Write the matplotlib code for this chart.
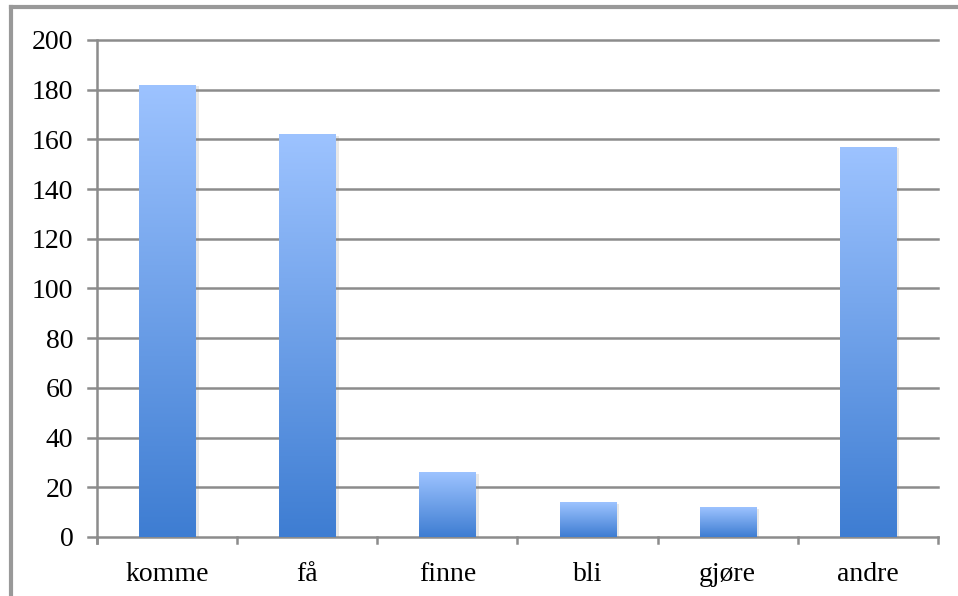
import numpy as np
import matplotlib
matplotlib.use("Agg")
import matplotlib.pyplot as plt
from matplotlib.colors import LinearSegmentedColormap
from matplotlib import patheffects as pe
from matplotlib.lines import Line2D

categories = ["komme", "få", "finne", "bli", "gjøre", "andre"]
counts = [182, 162, 26, 14, 12, 157]
y_ticks = [0, 20, 40, 60, 80, 100, 120, 140, 160, 180, 200]

plt.rcParams["font.family"] = ["Liberation Serif", "DejaVu Serif"]

fig = plt.figure(figsize=(9.58, 5.96), dpi=100)
ax = fig.add_axes([0.1013, 0.099, 0.8777, 0.834])

grid_col = "#8c8c8c"
x = np.arange(len(categories))
bars = ax.bar(x, counts, width=0.4, color="#6fa0e8", zorder=3,
              path_effects=[pe.SimplePatchShadow(offset=(2.5, -1), alpha=0.18, shadow_rgbFace="#808080"),
                            pe.Normal()])

# vertical gradient inside each bar: light at top, darker at the base
cmap = LinearSegmentedColormap.from_list("bar_grad", ["#3e7dd2", "#9dc3ff"])
grad = np.linspace(0, 1, 256).reshape(-1, 1)
for b in bars:
    x0, w, h = b.get_x(), b.get_width(), b.get_height()
    im = ax.imshow(grad, cmap=cmap, origin="lower", aspect="auto",
                   extent=(x0, x0 + w, 0, h), zorder=4, interpolation="bicubic")
    im.set_clip_path(b)

ax.set_xlim(-0.5, len(categories) - 0.5)
ax.set_ylim(0, 200)
ax.set_yticks(y_ticks)
ax.set_yticklabels([str(v) for v in y_ticks])
ax.set_xticks(x)
ax.set_xticklabels(categories)
ax.tick_params(axis="both", length=0, labelsize=20, colors="black")
ax.tick_params(axis="y", pad=17)
ax.tick_params(axis="x", pad=18)

# horizontal gridlines with short outward ticks on the left
for v in y_ticks:
    ax.add_line(Line2D([-0.565, len(categories) - 0.5], [v, v], color=grid_col, lw=1.8,
                       zorder=1, clip_on=False))
# category boundary ticks below the axis
for k in range(len(categories) + 1):
    ax.add_line(Line2D([k - 0.5, k - 0.5], [0, -2.4], color=grid_col, lw=1.8,
                       zorder=1, clip_on=False))

for s in ["top", "right", "bottom"]:
    ax.spines[s].set_visible(False)
ax.spines["left"].set_color(grid_col)
ax.spines["left"].set_linewidth(1.8)
ax.spines["left"].set_bounds(-2.6, 200)

# outer chart frame (top and left edges)
fig.add_artist(Line2D([10.5 / 958, 1.0], [1 - 6.5 / 596, 1 - 6.5 / 596],
                      transform=fig.transFigure, color="#999999", lw=3.0))
fig.add_artist(Line2D([10.5 / 958, 10.5 / 958], [0, 1 - 6.5 / 596],
                      transform=fig.transFigure, color="#999999", lw=3.0))

fig.savefig("out.png", dpi=100, facecolor="white")
